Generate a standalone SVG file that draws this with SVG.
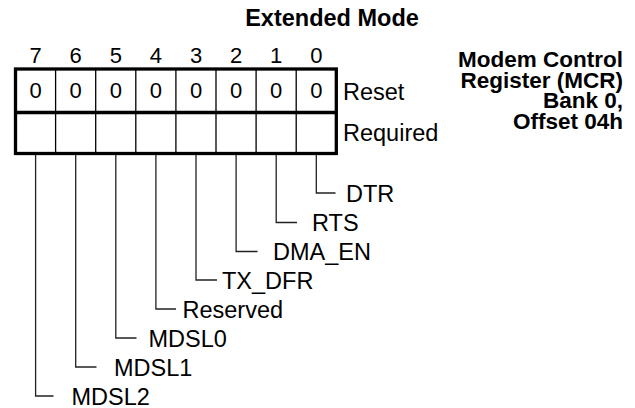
<svg xmlns="http://www.w3.org/2000/svg" width="635" height="408" viewBox="0 0 635 408">
<style>
text{font-family:"Liberation Sans",Arial,sans-serif;fill:#000}
.t{font-size:23.5px}
.d{font-size:22px;text-anchor:middle}
.b{font-size:23.5px;font-weight:bold}
.bs{font-size:22.5px;font-weight:bold;text-anchor:end}
.thick{fill:none;stroke:#000;stroke-width:3.3}
.thin{fill:none;stroke:#000;stroke-width:1.3}
.c{fill:none;stroke:#222;stroke-width:1.3}
</style>
<rect width="635" height="408" fill="#fff"/>
<g id="title">
<text class="b" x="332" y="26" text-anchor="middle">Extended Mode</text>
</g>
<g id="register-name">
<text class="bs" x="623" y="67">Modem Control</text>
<text class="bs" x="623" y="87.7">Register (MCR)</text>
<text class="bs" x="623" y="108.4">Bank 0,</text>
<text class="bs" x="623" y="129.1">Offset 04h</text>
</g>
<g id="bit-numbers">
<text class="d" x="35.6" y="63">7</text>
<text class="d" x="75.7" y="63">6</text>
<text class="d" x="115.8" y="63">5</text>
<text class="d" x="155.9" y="63">4</text>
<text class="d" x="196" y="63">3</text>
<text class="d" x="236.1" y="63">2</text>
<text class="d" x="276.2" y="63">1</text>
<text class="d" x="316.3" y="63">0</text>
</g>
<g id="register">
<path class="thin" d="M55.6 69V153.5M95.7 69V153.5M135.8 69V153.5M175.9 69V153.5M216 69V153.5M256.1 69V153.5M296.2 69V153.5"/>
<rect class="thick" x="15.5" y="69" width="320.8" height="84.5"/>
<path class="thick" d="M15.5 112.5H336.3"/>
<text class="d" x="35.6" y="98">0</text>
<text class="d" x="75.7" y="98">0</text>
<text class="d" x="115.8" y="98">0</text>
<text class="d" x="155.9" y="98">0</text>
<text class="d" x="196" y="98">0</text>
<text class="d" x="236.1" y="98">0</text>
<text class="d" x="276.2" y="98">0</text>
<text class="d" x="316.3" y="98">0</text>
</g>
<g id="row-labels">
<text class="t" x="343" y="100">Reset</text>
<text class="t" x="343" y="141">Required</text>
</g>
<g id="connectors">
<path class="c" d="M316.3 155V193H335.5"/>
<path class="c" d="M276.2 155V222.5H297"/>
<path class="c" d="M236.1 155V251.5H257.5"/>
<path class="c" d="M196 155V280H217"/>
<path class="c" d="M155.9 155V309H176"/>
<path class="c" d="M115.8 155V338H136.5"/>
<path class="c" d="M75.7 155V367H96.5"/>
<path class="c" d="M35.6 155V396H53.5"/>
</g>
<g id="field-labels">
<text class="t" x="346" y="201.5">DTR</text>
<text class="t" x="312" y="231">RTS</text>
<text class="t" x="273" y="260">DMA_EN</text>
<text class="t" x="222" y="288.5">TX_DFR</text>
<text class="t" x="182.5" y="317.5">Reserved</text>
<text class="t" x="148.5" y="346.5">MDSL0</text>
<text class="t" x="114" y="375.5">MDSL1</text>
<text class="t" x="71.5" y="404.5">MDSL2</text>
</g>
</svg>
